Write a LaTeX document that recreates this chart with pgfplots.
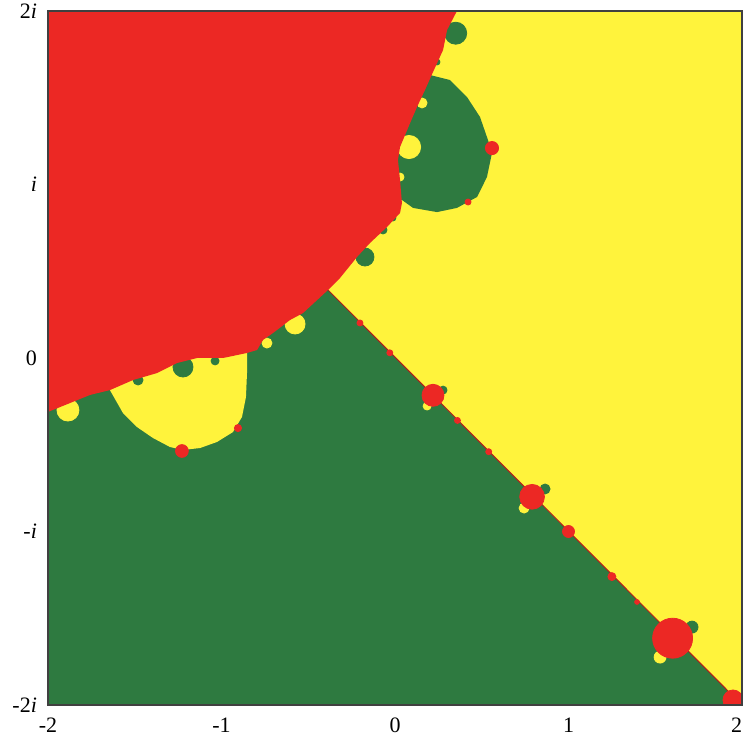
\documentclass[border=0pt]{standalone}
\usepackage{fontspec}
\setmainfont{Liberation Serif}
\usepackage{pgfplots}
\pgfplotsset{compat=1.18}
\definecolor{bred}{RGB}{236,40,36}
\definecolor{byel}{RGB}{255,243,60}
\definecolor{bgrn}{RGB}{46,122,64}
\pgfplotsset{
  yb/.style={only marks, mark=*, mark size=#1, color=byel, mark options={draw=none}},
  gb/.style={only marks, mark=*, mark size=#1, color=bgrn, mark options={draw=none}},
  rb/.style={only marks, mark=*, mark size=#1, color=bred, mark options={draw=none}},
}
\begin{document}
\begin{tikzpicture}
\begin{axis}[
  name=ax,
  scale only axis, width=347pt, height=347pt,
  xmin=-2, xmax=2, ymin=-2, ymax=2,
  xtick={-2,-1,0,1,2}, xticklabels={-2,-1,0,1,\makebox[0pt][r]{2}},
  ytick={-2,-1,0,1,2}, yticklabels={-2\textit{i},-\textit{i},0,\textit{i},2\textit{i}},
  major tick length=0pt,
  tick label style={font=\fontsize{11}{13}\selectfont},
  xticklabel style={yshift=-3pt},
  yticklabel style={xshift=-2pt},
  axis line style={black!75, line width=0.6pt},
  clip marker paths=true,
  axis on top,
]
% green basin (background)
\addplot[fill=bgrn, draw=none] coordinates {(-2,-2) (2,-2) (2,2) (-2,2)} -- cycle;
% yellow basin
\addplot[fill=byel, draw=none] coordinates {(-0.386,0.392) (2,-2) (2,2) (-0.386,2)} -- cycle;
% big green bulb on red/yellow boundary
\addplot[fill=bgrn, draw=none] coordinates {
 (-0.086,1.631) (0.202,1.631) (0.317,1.602) (0.415,1.504) (0.490,1.389) (0.536,1.256)
 (0.559,1.182) (0.530,1.043) (0.473,0.928) (0.357,0.865) (0.242,0.841) (0.104,0.865)
 (0.040,0.911) (-0.086,0.911)} -- cycle;
\addplot[gb=5.5pt] coordinates {(0.35,1.872)};
\addplot[gb=4.5pt] coordinates {(-0.173,0.582)};
\addplot[gb=2pt] coordinates {(-0.069,0.738)};
\addplot[gb=1.5pt] coordinates {(-0.012,0.807)};
\addplot[gb=1.5pt] coordinates {(0.242,1.706)};
% yellow bulbs inside the big green bulb
\addplot[yb=5.8pt] coordinates {(0.081,1.216)};
\addplot[yb=2.5pt] coordinates {(0.156,1.470)};
\addplot[yb=2pt] coordinates {(0.029,1.043)};
% big yellow bulb on red/green boundary
\addplot[fill=byel, draw=none] coordinates {
 (-1.643,-0.185) (-1.568,-0.317) (-1.487,-0.398) (-1.395,-0.461) (-1.297,-0.513)
 (-1.222,-0.530) (-1.124,-0.519) (-1.026,-0.484) (-0.934,-0.427) (-0.882,-0.340)
 (-0.859,-0.225) (-0.853,-0.087) (-0.853,0.029) (-0.853,0.100) (-1.671,-0.115)} -- cycle;
\addplot[yb=5.5pt] coordinates {(-1.885,-0.300)};
\addplot[yb=5pt] coordinates {(-0.576,0.196)};
\addplot[yb=2.5pt] coordinates {(-0.738,0.086)};
% green bulbs inside the big yellow bulb
\addplot[gb=5pt] coordinates {(-1.222,-0.052)};
\addplot[gb=2.5pt] coordinates {(-1.481,-0.127)};
\addplot[gb=2pt] coordinates {(-1.037,-0.017)};
% red basin
\addplot[fill=bred, draw=none] coordinates {
 (-2,2) (0.357,2.0) (0.300,1.890) (0.277,1.775) (0.219,1.648) (0.173,1.545)
 (0.127,1.447) (0.087,1.354) (0.029,1.216) (0.017,1.141) (0.029,1.026)
 (0.040,0.893) (0.029,0.836) (-0.046,0.755) (-0.144,0.663) (-0.219,0.582)
 (-0.317,0.461) (-0.386,0.392)
 (-0.449,0.334) (-0.530,0.259) (-0.605,0.219) (-0.703,0.144) (-0.761,0.104)
 (-0.795,0.046) (-0.853,0.029) (-0.991,0.0) (-1.141,0.0) (-1.256,-0.029)
 (-1.372,-0.087) (-1.510,-0.127) (-1.643,-0.185) (-1.758,-0.213) (-2,-0.311)} -- cycle;
% thin boundary along the diagonal
\addplot[color=bred!75!black, line width=0.5pt] coordinates {(-0.386,0.392) (2,-2)};
% satellites of the red bulbs on the diagonal
\addplot[gb=2pt] coordinates {(0.277,-0.185)};
\addplot[yb=2pt] coordinates {(0.185,-0.277)};
\addplot[gb=2.5pt] coordinates {(0.865,-0.755)};
\addplot[yb=2.5pt] coordinates {(0.744,-0.865)};
\addplot[gb=3pt] coordinates {(1.712,-1.551)};
\addplot[yb=3pt] coordinates {(1.528,-1.724)};
% red bulbs
\addplot[rb=1.5pt] coordinates {(-0.202,0.202)};
\addplot[rb=1.5pt] coordinates {(-0.03,0.03)};
\addplot[rb=5.5pt] coordinates {(0.219,-0.215)};
\addplot[rb=1.5pt] coordinates {(0.36,-0.36)};
\addplot[rb=1.5pt] coordinates {(0.54,-0.54)};
\addplot[rb=6.2pt] coordinates {(0.79,-0.80)};
\addplot[rb=3pt] coordinates {(1.0,-1.0)};
\addplot[rb=2pt] coordinates {(1.25,-1.26)};
\addplot[rb=1.2pt] coordinates {(1.395,-1.406)};
\addplot[rb=10pt] coordinates {(1.60,-1.615)};
\addplot[rb=5pt] coordinates {(1.948,-1.971)};
\addplot[rb=3.2pt] coordinates {(-1.228,-0.536)};
\addplot[rb=1.8pt] coordinates {(-0.905,-0.404)};
\addplot[rb=3.3pt] coordinates {(0.559,1.210)};
\addplot[rb=1.5pt] coordinates {(0.421,0.899)};
\end{axis}
\pgfresetboundingbox
\path ([shift={(-24pt,-19.5pt)}]ax.south west) rectangle ([shift={(1pt,5.5pt)}]ax.north east);
\end{tikzpicture}
\end{document}
